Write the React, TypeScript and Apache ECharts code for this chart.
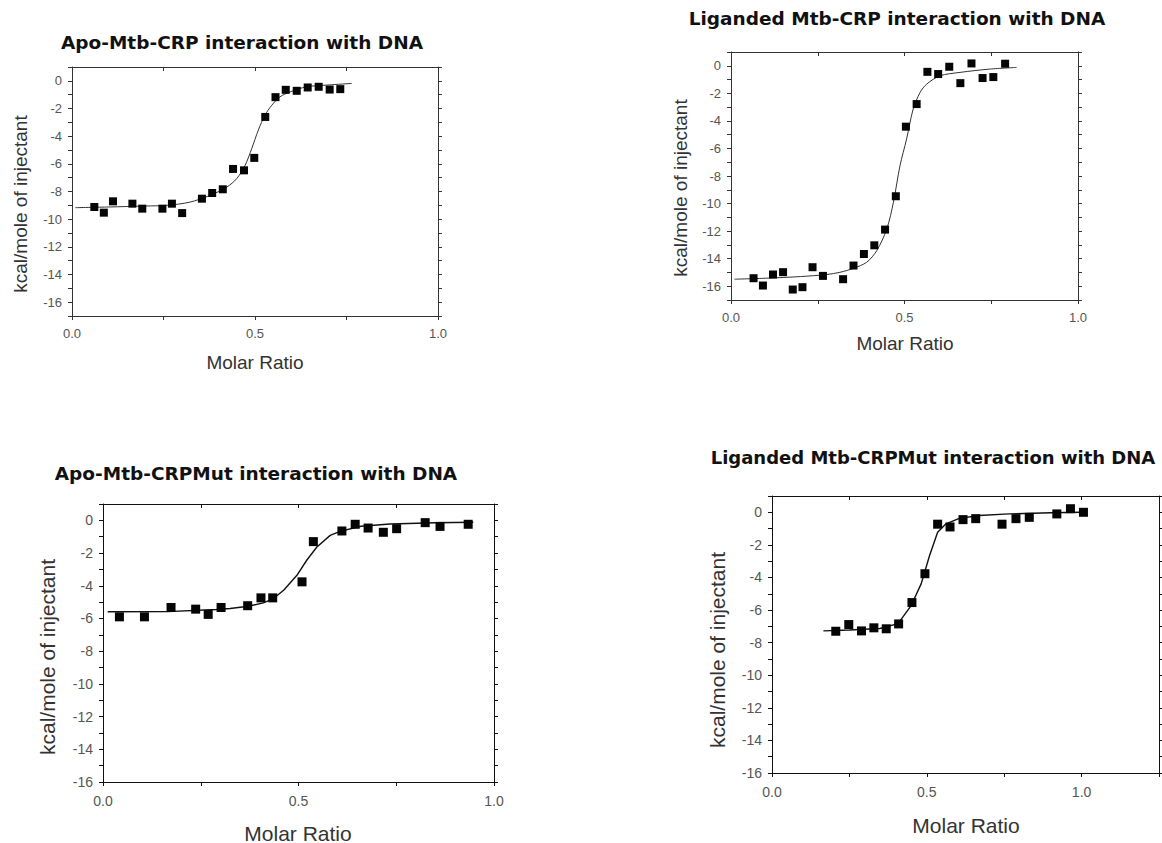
import React, { useEffect, useRef } from "react";
import * as echarts from "echarts";

// ---- Panel 1: Apo-Mtb-CRP interaction with DNA ----
const P1_RATIO = [0.061, 0.087, 0.112, 0.165, 0.192, 0.247, 0.273, 0.301, 0.355, 0.383, 0.412, 0.44, 0.47, 0.498, 0.528, 0.556, 0.584, 0.614, 0.644, 0.674, 0.704, 0.733];
const P1_HEAT = [-9.12, -9.53, -8.71, -8.88, -9.24, -9.24, -8.88, -9.56, -8.52, -8.11, -7.84, -6.37, -6.47, -5.57, -2.61, -1.18, -0.65, -0.72, -0.48, -0.43, -0.63, -0.6];
const P1_FIT_RATIO = [0.009, 0.1, 0.2, 0.26, 0.322, 0.377, 0.423, 0.45, 0.473, 0.491, 0.509, 0.527, 0.546, 0.568, 0.596, 0.641, 0.7, 0.764];
const P1_FIT_HEAT = [-9.17, -9.12, -9.05, -9.0, -8.77, -8.28, -7.68, -7.07, -6.11, -4.9, -3.57, -2.49, -1.76, -1.16, -0.8, -0.43, -0.3, -0.19];

// ---- Panel 2: Liganded Mtb-CRP interaction with DNA ----
const P2_RATIO = [0.065, 0.092, 0.121, 0.15, 0.178, 0.206, 0.235, 0.265, 0.323, 0.353, 0.383, 0.413, 0.444, 0.475, 0.504, 0.535, 0.566, 0.597, 0.629, 0.661, 0.693, 0.725, 0.756, 0.79];
const P2_HEAT = [-15.42, -15.95, -15.15, -14.98, -16.24, -16.07, -14.62, -15.25, -15.49, -14.5, -13.66, -13.03, -11.89, -9.47, -4.42, -2.78, -0.44, -0.6, -0.07, -1.26, 0.17, -0.89, -0.82, 0.15];
const P2_FIT_RATIO = [0.01, 0.1, 0.2, 0.276, 0.314, 0.353, 0.391, 0.42, 0.449, 0.468, 0.487, 0.506, 0.525, 0.545, 0.564, 0.602, 0.66, 0.746, 0.823];
const P2_FIT_HEAT = [-15.49, -15.42, -15.3, -15.15, -14.99, -14.7, -14.26, -13.42, -11.84, -9.91, -7.25, -5.32, -3.14, -1.93, -1.33, -0.73, -0.48, -0.24, -0.12];

// ---- Panel 3: Apo-Mtb-CRPMut interaction with DNA ----
const P3_RATIO = [0.042, 0.106, 0.174, 0.237, 0.269, 0.302, 0.37, 0.404, 0.434, 0.509, 0.538, 0.611, 0.645, 0.678, 0.717, 0.751, 0.824, 0.862, 0.934];
const P3_HEAT = [-5.9, -5.9, -5.33, -5.43, -5.75, -5.33, -5.22, -4.74, -4.74, -3.76, -1.3, -0.65, -0.24, -0.47, -0.73, -0.51, -0.14, -0.37, -0.24];
const P3_FIT_RATIO = [0.012, 0.164, 0.29, 0.325, 0.372, 0.41, 0.436, 0.462, 0.496, 0.521, 0.547, 0.581, 0.606, 0.66, 0.734, 0.85, 0.947];
const P3_FIT_HEAT = [-5.59, -5.58, -5.45, -5.39, -5.25, -5.05, -4.78, -4.27, -3.36, -2.44, -1.63, -0.92, -0.67, -0.36, -0.22, -0.15, -0.12];

// ---- Panel 4: Liganded Mtb-CRPMut interaction with DNA ----
const P4_RATIO = [0.206, 0.248, 0.289, 0.329, 0.369, 0.409, 0.452, 0.494, 0.535, 0.575, 0.617, 0.658, 0.743, 0.788, 0.831, 0.92, 0.964, 1.006];
const P4_HEAT = [-7.3, -6.89, -7.28, -7.09, -7.15, -6.85, -5.54, -3.77, -0.73, -0.9, -0.45, -0.39, -0.73, -0.39, -0.31, -0.1, 0.22, 0.0];
const P4_FIT_RATIO = [0.166, 0.25, 0.348, 0.407, 0.45, 0.482, 0.509, 0.535, 0.562, 0.605, 0.669, 0.766, 0.9, 1.0];
const P4_FIT_HEAT = [-7.28, -7.22, -7.13, -6.83, -5.71, -4.38, -2.65, -1.22, -0.71, -0.37, -0.2, -0.1, -0.03, 0.0];

const TITLES = [
  "Apo-Mtb-CRP interaction with DNA",
  "Liganded Mtb-CRP interaction with DNA",
  "Apo-Mtb-CRPMut interaction with DNA",
  "Liganded Mtb-CRPMut interaction with DNA",
];
const X_NAME = "Molar Ratio";
const Y_NAME = "kcal/mole of injectant";
const Y_MIN = [-17, -17, -16, -16];
const Y_MAX = [1, 1, 1, 1];
const X_MAX = [1, 1, 1, 1.25];

const zip = (a: number[], b: number[]) => a.map((v, i) => [v, b[i]]);

const PANELS = [
  { pts: zip(P1_RATIO, P1_HEAT), fit: zip(P1_FIT_RATIO, P1_FIT_HEAT) },
  { pts: zip(P2_RATIO, P2_HEAT), fit: zip(P2_FIT_RATIO, P2_FIT_HEAT) },
  { pts: zip(P3_RATIO, P3_HEAT), fit: zip(P3_FIT_RATIO, P3_FIT_HEAT) },
  { pts: zip(P4_RATIO, P4_HEAT), fit: zip(P4_FIT_RATIO, P4_FIT_HEAT) },
];

// layout (pixels)
const GRIDS = [
  { left: 72, top: 67, width: 366, height: 249 },
  { left: 731, top: 52, width: 347, height: 248 },
  { left: 103, top: 504, width: 391, height: 278 },
  { left: 772, top: 496, width: 388, height: 277 },
];
const TITLE_POS = [
  [242, 42],
  [897, 18],
  [256, 473],
  [933, 457],
];
const TITLE_SIZE = [18.5, 18.5, 18.5, 18];
const YNAME_POS = [
  [20, 204],
  [680, 188],
  [47, 657],
  [717, 650],
];
const XNAME_POS = [
  [255, 362],
  [905, 343],
  [298, 833],
  [966, 825],
];

const FONT = "'Liberation Sans', Arial, Helvetica, sans-serif";

export default function App() {
  const ref = useRef<HTMLDivElement>(null);
  useEffect(() => {
    if (!ref.current) return;
    const chart = echarts.init(ref.current, undefined, { renderer: "svg" });
    const xAxis: any[] = [];
    const yAxis: any[] = [];
    const series: any[] = [];
    const graphic: any[] = [];
    PANELS.forEach((p, i) => {
      const big = i >= 2;
      const axisColor = big ? "#111" : "#333";
      const labelSize = big ? 14 : 13;
      const common = {
        type: "value",
        gridIndex: i,
        splitLine: { show: false },
        axisLine: { show: true, onZero: false, lineStyle: { color: axisColor, width: 1 } },
      };
      xAxis.push({
        ...common,
        position: "bottom",
        min: 0,
        max: X_MAX[i],
        interval: 0.25,
        axisTick: { show: true, inside: false, length: 4, lineStyle: { color: axisColor } },
        axisLabel: {
          show: true,
          margin: big ? 12 : 11,
          color: "#555",
          fontFamily: FONT,
          fontSize: labelSize,
          showMinLabel: true,
          showMaxLabel: true,
          formatter: (v: number) => (Math.abs(v * 2 - Math.round(v * 2)) < 1e-6 ? v.toFixed(1) : ""),
        },
      });
      xAxis.push({
        ...common,
        position: "top",
        min: 0,
        max: X_MAX[i],
        interval: 0.25,
        axisTick: { show: true, inside: true, length: 4, lineStyle: { color: axisColor } },
        axisLabel: { show: false },
      });
      yAxis.push({
        ...common,
        position: "left",
        min: Y_MIN[i],
        max: Y_MAX[i],
        interval: 1,
        axisTick: { show: true, inside: false, length: 4, lineStyle: { color: axisColor } },
        axisLabel: {
          show: true,
          margin: 10,
          color: "#555",
          fontFamily: FONT,
          fontSize: labelSize,
          formatter: (v: number) => (Math.round(v) % 2 === 0 ? String(Math.round(v)) : ""),
        },
      });
      yAxis.push({
        ...common,
        position: "right",
        min: Y_MIN[i],
        max: Y_MAX[i],
        interval: 1,
        axisTick: { show: true, inside: false, length: 4, lineStyle: { color: axisColor } },
        axisLabel: { show: false },
      });
      series.push({
        type: "line",
        xAxisIndex: i * 2,
        yAxisIndex: i * 2,
        data: p.fit,
        showSymbol: false,
        symbol: "none",
        smooth: big ? false : 0.3,
        lineStyle: { color: big ? "#111" : "#333", width: big ? 1.4 : 1 },
        z: 2,
      });
      series.push({
        type: "scatter",
        xAxisIndex: i * 2,
        yAxisIndex: i * 2,
        data: p.pts,
        symbol: "rect",
        symbolSize: big ? 9 : 8,
        itemStyle: { color: "#050505", opacity: 1 },
        z: 3,
      });
      graphic.push({
        type: "text",
        x: TITLE_POS[i][0],
        y: TITLE_POS[i][1],
        style: {
          text: TITLES[i],
          align: "center",
          verticalAlign: "middle",
          font: `bold ${TITLE_SIZE[i]}px 'DejaVu Sans', sans-serif`,
          fill: "#111",
        },
      });
      graphic.push({
        type: "text",
        x: YNAME_POS[i][0],
        y: YNAME_POS[i][1],
        rotation: Math.PI / 2,
        style: {
          text: Y_NAME,
          align: "center",
          verticalAlign: "middle",
          font: `${big ? 21 : 19}px ${FONT}`,
          fill: "#333",
        },
      });
      graphic.push({
        type: "text",
        x: XNAME_POS[i][0],
        y: XNAME_POS[i][1],
        style: {
          text: X_NAME,
          align: "center",
          verticalAlign: "middle",
          font: `${big ? 21 : 19}px ${FONT}`,
          fill: "#333",
        },
      });
    });
    chart.setOption({
      animation: false,
      backgroundColor: "#ffffff",
      grid: GRIDS.map((g) => ({ ...g, containLabel: false })),
      xAxis,
      yAxis,
      series,
      graphic,
    });
    return () => chart.dispose();
  }, []);
  return (
    <div
      ref={ref}
      style={{ position: "fixed", left: 0, top: 0, width: 1162, height: 843, background: "#fff" }}
    />
  );
}
